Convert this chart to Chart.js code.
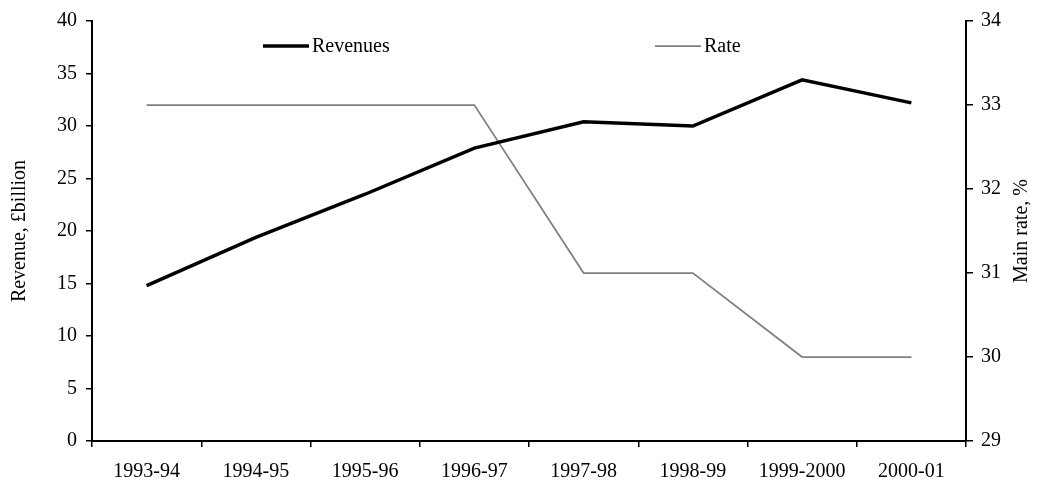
<!DOCTYPE html>
<html>
<head>
<meta charset="utf-8">
<script src="https://cdn.jsdelivr.net/npm/chart.js@4"></script>
<style>
  html, body { margin: 0; padding: 0; background: #fff; }
  #wrap { width: 1037px; height: 484px; position: relative; }
</style>
</head>
<body>
<div id="wrap"><canvas id="revChart"></canvas></div>
<script>
/* ===============================
   DATA
================================ */
const years = ["1993-94", "1994-95", "1995-96", "1996-97", "1997-98", "1998-99", "1999-2000", "2000-01"];
const revenues = [14.8, 19.4, 23.5, 27.9, 30.4, 30.0, 34.4, 32.2]; // £billion
const rates = [33, 33, 33, 33, 31, 31, 30, 30];                     // main rate, %
const revenueTicks = [0, 5, 10, 15, 20, 25, 30, 35, 40];
const rateTicks = [29, 30, 31, 32, 33, 34];

const FONT = "'Liberation Serif', 'Times New Roman', serif";
Chart.defaults.font.family = FONT;
Chart.defaults.font.size = 20;
Chart.defaults.color = "#000";

/* ===============================
   LEGEND (inside plot area)
================================ */
const innerLegend = {
  id: "innerLegend",
  afterDatasetsDraw(c) {
    const { ctx, chartArea } = c;
    const spots = [chartArea.left + 171, chartArea.left + 563];
    const y = chartArea.top + 25;
    ctx.save();
    ctx.font = "20px " + FONT;
    ctx.textBaseline = "middle";
    ctx.fillStyle = "#000";
    c.data.datasets.forEach((ds, i) => {
      const x = spots[i];
      ctx.beginPath();
      ctx.strokeStyle = ds.borderColor;
      ctx.lineWidth = ds.borderWidth;
      ctx.moveTo(x, y);
      ctx.lineTo(x + 46, y);
      ctx.stroke();
      ctx.fillText(ds.label, x + 49, y + 1);
    });
    ctx.restore();
  }
};

/* ===============================
   RIGHT AXIS TITLE (reads upward)
================================ */
const rightTitle = {
  id: "rightTitle",
  afterDraw(c) {
    const s = c.scales.y2;
    const { ctx } = c;
    ctx.save();
    ctx.font = "20px " + FONT;
    ctx.fillStyle = "#000";
    ctx.textAlign = "center";
    ctx.textBaseline = "middle";
    ctx.translate(s.right - 15, (s.top + s.bottom) / 2);
    ctx.rotate(-Math.PI / 2);
    ctx.fillText("Main rate, %", 0, 0);
    ctx.restore();
  }
};

/* ===============================
   CHART
================================ */
new Chart(document.getElementById("revChart"), {
  type: "line",
  data: {
    labels: years,
    datasets: [
      {
        label: "Revenues",
        data: revenues,
        yAxisID: "y",
        borderColor: "#000",
        borderWidth: 3.5,
        pointRadius: 0,
        tension: 0
      },
      {
        label: "Rate",
        data: rates,
        yAxisID: "y2",
        borderColor: "#808080",
        borderWidth: 1.75,
        pointRadius: 0,
        tension: 0
      }
    ]
  },
  options: {
    responsive: true,
    maintainAspectRatio: false,
    animation: false,
    layout: { padding: { top: 20, left: 0, right: 0, bottom: 0 } },
    plugins: {
      legend: { display: false },
      tooltip: { enabled: false }
    },
    scales: {
      x: {
        type: "category",
        offset: true,
        grid: {
          offset: true,
          drawOnChartArea: false,
          color: "#000",
          lineWidth: 1.5,
          tickLength: 6
        },
        border: { color: "#000", width: 2 },
        ticks: { padding: 13, maxRotation: 0, autoSkip: false },
        afterFit(s) { s.height = 43; }
      },
      y: {
        position: "left",
        min: 0,
        max: 40,
        afterBuildTicks(s) { s.ticks = revenueTicks.map(v => ({ value: v })); },
        grid: {
          drawOnChartArea: false,
          color: "#000",
          lineWidth: 1.5,
          tickLength: 6
        },
        border: { color: "#000", width: 2 },
        ticks: { padding: 9 },
        title: {
          display: true,
          text: "Revenue, £billion",
          padding: { top: 8, bottom: 0 }
        },
        afterFit(s) { s.width = 92; }
      },
      y2: {
        position: "right",
        min: 29,
        max: 34,
        afterBuildTicks(s) { s.ticks = rateTicks.map(v => ({ value: v })); },
        grid: {
          drawOnChartArea: false,
          color: "#000",
          lineWidth: 1.5,
          tickLength: 7
        },
        border: { color: "#000", width: 2 },
        ticks: { padding: 8 },
        afterFit(s) { s.width = 71; }
      }
    }
  },
  plugins: [innerLegend, rightTitle]
});
</script>
</body>
</html>
